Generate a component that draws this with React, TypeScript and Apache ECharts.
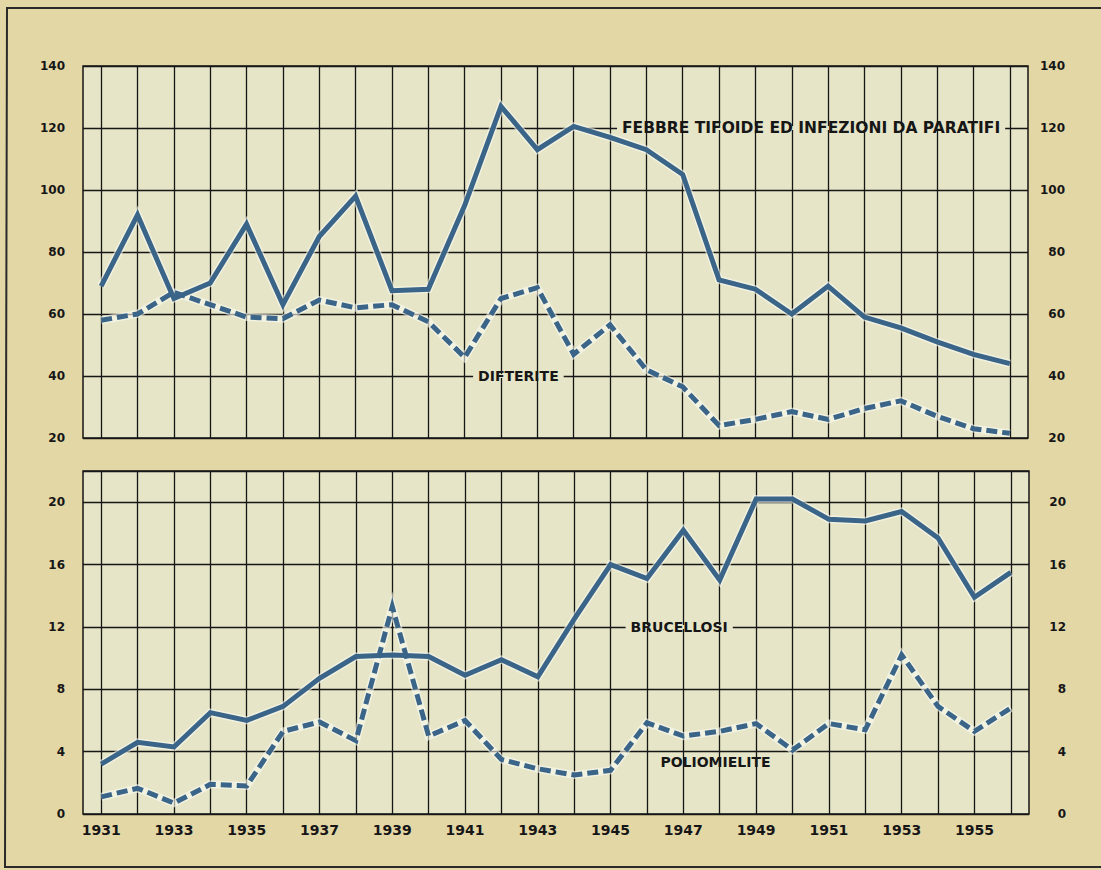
import { useEffect, useRef } from 'react';
import * as echarts from 'echarts';

// ---- data ----
const years = [
  1931, 1932, 1933, 1934, 1935, 1936, 1937, 1938, 1939, 1940,
  1941, 1942, 1943, 1944, 1945, 1946, 1947, 1948, 1949, 1950,
  1951, 1952, 1953, 1954, 1955, 1956,
];
const yearLabels = [1931, 1933, 1935, 1937, 1939, 1941, 1943, 1945, 1947, 1949, 1951, 1953, 1955];

const typhoid = [69, 92, 65, 70, 89, 63, 85, 98, 67.5, 68, 95, 127, 113, 120.5, 117, 113, 105, 71, 68, 60, 69, 59, 55.5, 51, 47, 44];
const diphtheria = [58, 60, 67, 63, 59, 58.5, 64.5, 62, 63, 57.5, 46, 65, 68.5, 47, 56.5, 42, 36.5, 24, 26, 28.5, 26, 29.5, 32, 27, 23, 21.5];
const brucellosis = [3.2, 4.6, 4.3, 6.5, 6.0, 6.9, 8.7, 10.1, 10.2, 10.1, 8.9, 9.9, 8.8, 12.5, 16.0, 15.1, 18.2, 15.0, 20.2, 20.2, 18.9, 18.8, 19.4, 17.7, 13.9, 15.5];
const polio = [1.1, 1.65, 0.7, 1.9, 1.8, 5.3, 5.9, 4.7, 13.3, 5.0, 6.0, 3.5, 2.9, 2.5, 2.8, 5.85, 5.0, 5.3, 5.8, 4.1, 5.8, 5.4, 10.2, 6.9, 5.3, 6.8];

const topTicks = [20, 40, 60, 80, 100, 120, 140];
const bottomTicks = [0, 4, 8, 12, 16, 20];

const seriesNames = [
  'FEBBRE TIFOIDE ED INFEZIONI DA PARATIFI',
  'DIFTERITE',
  'BRUCELLOSI',
  'POLIOMIELITE',
];

// ---- layout / styles ----
const PAGE_BG = '#e4d7a6';
const PLOT_BG = '#e6e5c8';
const INK = '#161616';
const LINE = '#3a6589';
const HALO = 'rgba(250,250,240,0.6)';
const FONT = 'DejaVu Sans';

// where each series name sits (grid, data-space anchor of the text's left/middle, font size, gap in gridline)
const nameLayout = [
  { grid: 0, at: [1945.33, 120], size: 15.5, gap: true },
  { grid: 0, at: [1941.37, 40], size: 14, gap: true },
  { grid: 1, at: [1945.55, 12], size: 14, gap: true },
  { grid: 1, at: [1946.37, 3.35], size: 14, gap: false },
];

function pairs(vals: number[]) {
  return years.map((y, i) => [y, vals[i]]);
}

export default function App() {
  const ref = useRef<HTMLDivElement>(null);

  useEffect(() => {
    const chart = echarts.init(ref.current!, null, { renderer: 'svg' });

    const xBase = (gridIndex: number, labels: boolean) => ({
      type: 'value',
      gridIndex,
      min: 1930.5,
      max: 1956.5,
      axisLine: { show: false },
      axisTick: { show: false, customValues: years },
      axisLabel: labels
        ? {
            show: true,
            customValues: yearLabels,
            margin: 9,
            fontSize: 14,
            fontWeight: 'bold',
            color: INK,
            fontFamily: FONT,
            formatter: (v: number) => String(v),
          }
        : { show: false },
      splitLine: { show: true, lineStyle: { color: INK, width: 1.3 } },
    });

    const yBase = (gridIndex: number, pos: 'left' | 'right', ticks: number[], max: number, split: boolean) => ({
      type: 'value',
      gridIndex,
      position: pos,
      min: ticks[0],
      max,
      interval: ticks[1] - ticks[0],
      axisLine: { show: false },
      axisTick: { show: false },
      axisLabel: {
        margin: pos === 'left' ? 18 : 37,
        align: 'right',
        fontSize: 12,
        fontWeight: 'bold',
        color: INK,
        fontFamily: FONT,
        formatter: (v: number) => (ticks.indexOf(v) >= 0 ? String(v) : ''),
      },
      splitLine: { show: split, lineStyle: { color: INK, width: 1.3 } },
    });

    const lineSeries = (vals: number[], gi: number, dashed: boolean) => [
      {
        type: 'line',
        xAxisIndex: gi,
        yAxisIndex: gi * 2,
        data: pairs(vals),
        symbol: 'none',
        silent: true,
        z: 2,
        lineStyle: { color: HALO, width: 8, join: 'miter' },
      },
      {
        type: 'line',
        xAxisIndex: gi,
        yAxisIndex: gi * 2,
        data: pairs(vals),
        symbol: 'none',
        silent: true,
        z: 3,
        lineStyle: { color: LINE, width: 5, type: dashed ? [11, 5] : 'solid', cap: 'butt', join: 'miter' },
      },
    ];

    const option: any = {
      animation: false,
      backgroundColor: PAGE_BG,
      grid: [
        { left: 83, right: 73, top: 66, height: 372, show: true, backgroundColor: PLOT_BG, borderColor: INK, borderWidth: 1.5 },
        { left: 83, right: 72, top: 471, height: 343, show: true, backgroundColor: PLOT_BG, borderColor: INK, borderWidth: 1.5 },
      ],
      xAxis: [xBase(0, false), xBase(1, true)],
      yAxis: [
        yBase(0, 'left', topTicks, 140, true),
        yBase(0, 'right', topTicks, 140, false),
        yBase(1, 'left', bottomTicks, 22, true),
        yBase(1, 'right', bottomTicks, 22, false),
      ],
      series: [
        ...lineSeries(typhoid, 0, false),
        ...lineSeries(diphtheria, 0, true),
        ...lineSeries(brucellosis, 1, false),
        ...lineSeries(polio, 1, true),
      ],
    };
    chart.setOption(option);

    const ctx = document.createElement('canvas').getContext('2d')!;
    const graphics: any[] = [
      {
        type: 'polyline',
        z: 100,
        silent: true,
        shape: { points: [[1110, 8], [7, 8], [5, 867], [1110, 867]] },
        style: { fill: 'none', stroke: '#2a2a2a', lineWidth: 2 },
      },
    ];
    seriesNames.forEach((text, i) => {
      const L = nameLayout[i];
      const fontStr = `bold ${L.size}px "${FONT}"`;
      ctx.font = fontStr;
      const p = chart.convertToPixel({ gridIndex: L.grid } as any, L.at) as number[];
      const w = ctx.measureText(text).width;
      if (L.gap) {
        graphics.push({
          type: 'rect',
          z: 100,
          silent: true,
          shape: { x: p[0] - 5, y: p[1] - 2, width: w + 10, height: 4 },
          style: { fill: PLOT_BG },
        });
      }
      graphics.push({
        type: 'text',
        z: 101,
        silent: true,
        x: p[0],
        y: p[1],
        style: {
          text,
          fill: INK,
          font: fontStr,
          align: 'left',
          verticalAlign: 'middle',
          textAlign: 'left',
          textVerticalAlign: 'middle',
        },
      });
    });
    chart.setOption({ graphic: graphics });

    return () => chart.dispose();
  }, []);

  return (
    <div
      ref={ref}
      style={{ position: 'fixed', left: 0, top: 0, width: 1101, height: 870 }}
    />
  );
}
